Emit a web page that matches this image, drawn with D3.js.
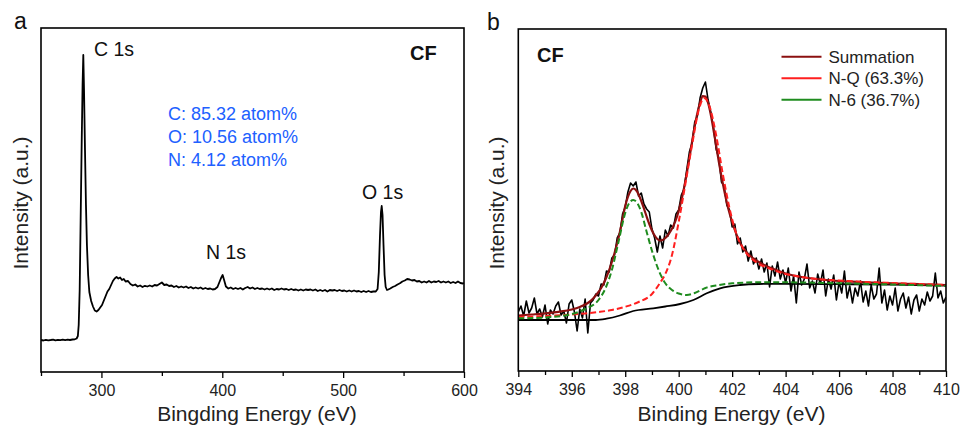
<!DOCTYPE html>
<html><head><meta charset="utf-8">
<script src="https://cdn.jsdelivr.net/npm/d3@7"></script>
<style>body{margin:0;background:#fff} text{font-family:"Liberation Sans",Arial,sans-serif}</style>
</head><body><svg id="c" width="960" height="425"></svg>
<script>
// ---------- Panel a: survey spectrum ----------
const surveyBE = [250,252,254,256,258,260,262,264,266,268,270,272,274,276,278,279.5,280.5,281.2,282,282.8,283.7,284.4,285,285.6,286.4,287.2,288,289,290,291.5,293,294.5,296,297.5,299,300.5,302,303.5,305,306.5,308,309.5,311,312.5,314,315.5,317,318.5,320,322,324,326,328,330,332,334,336,338,340,342,344,346,348,350,352,354,356,358,360,362,364,366,368,370,372,374,376,378,380,382,384,386,388,390,392,394,396,398,399,400.3,401.5,403,405,407,409,411,413,415,417,419,421,423,425,427,429,431,433,435,437,439,441,443,445,447,449,451,453,455,457,459,461,463,465,467,469,471,473,475,477,479,481,483,485,487,489,491,493,495,497,499,501,503,505,507,509,511,513,515,517,519,521,523,525,527,528.5,529.5,530.5,531.3,531.9,532.6,533.4,534.3,535.2,536.3,537.4,539,541,543,545,547,549,551,553,555,557,559,561,563,565,567,569,571,573,575,577,579,581,583,585,587,589,591,593,595,597,599,600];
const surveyI = [32,31.5,32.2,31.7,32,32.4,31.6,32.2,31.8,32.3,31.9,32.4,32,32.5,32.7,33.5,36,47,82,152,232,287,317,282,222,167,127,97,80,71,65.5,61.5,60.5,62,64.5,67,71.5,76,80.5,83,87,91,93.5,95,93.5,94.5,92,93,90.5,91,88,86.5,87.5,85.5,86.5,85,86.2,85.5,86.5,85.5,87,86.5,88,89.5,87,87.5,86,86.5,85,86,84.5,85.5,84.5,85.5,84,85,83.5,84.5,83.5,84.5,83,84,83,83.5,82.5,83,85,91,94,97,92,85.5,83.5,84.5,83,84,83,84,82.5,84,85,83.5,84.5,83,84,83,83.5,82.5,83.5,82.5,83.5,82,83,82.5,83.5,82.5,83,82,83,82,82.5,81.5,82.5,81.5,82.5,82,82.5,81.5,82.5,81,82,81,82,80.5,82,81.5,82,81,82,81,81.5,80.5,81.5,80.5,81.5,80.5,81,80,81,80,81,80,80.5,80.5,83,100,137,160,166,157,127,97,85,82,82.5,83.5,85,86,87.5,88.7,90.5,91.5,93,92.5,91.5,92,90.5,91,89.5,90.5,89.5,91,89.5,90.5,90,91,89.5,90.5,89.5,90.5,89,90,89,90.5,89,88.5,89];
const surveyTicks = [300,400,500,600];
const surveyMinor = [250,350,450,550];
const surveyPeaks = [["C 1s",285],["N 1s",400],["O 1s",532]];
const surveyComp = ["C: 85.32 atom%","O: 10.56 atom%","N: 4.12 atom%"];

// ---------- Panel b: N 1s high resolution ----------
const rawStart = 394, rawStep = 0.1;
const rawI = [59,65,55,70,58,63,73,57,62,54,66,47,61,57,65,69,56,60,48,67,71,59,40,62,53,72,38,68,71,77,75,87,86,100,99,113,116,133,138,157,164,179,188,185,189,175,178,167,162,159,142,133,119,135,123,141,135,146,143,157,161,176,182,201,219,228,249,255,273,283,289,271,259,244,222,213,189,185,166,161,144,147,127,133,119,125,110,120,107,113,102,112,99,108,84,105,95,109,92,101,88,103,80,95,68,99,86,92,107,83,90,78,97,87,101,75,92,82,96,71,89,78,100,73,85,68,83,75,90,69,80,65,86,72,77,103,68,81,61,75,66,83,60,72,78,63,74,57,71,76,60,72,66,79,70,75,98,73,80,68,74];
const sumBE = [394,394.5,395,395.5,396,396.3,396.6,396.8,397,397.1,397.2,397.3,397.4,397.5,397.6,397.7,397.8,397.9,398,398.1,398.2,398.3,398.4,398.5,398.6,398.7,398.8,398.9,399,399.1,399.2,399.3,399.4,399.5,399.6,399.7,399.8,399.9,400,400.1,400.2,400.3,400.4,400.5,400.6,400.7,400.8,400.9,401,401.1,401.2,401.3,401.4,401.5,401.6,401.7,401.8,401.9,402,402.1,402.2,402.3,402.4,402.5,402.6,402.7,402.8,402.9,403,403.2,403.4,403.6,403.8,404,404.5,405,405.5,406,406.5,407,407.5,408,408.5,409,409.5,410];
const sumI = [55.5,56.5,57.6,59.2,61.5,64,68,72.5,79,83,88,94,101,109,118,128,139,152,165,174,180,182.5,181,176.5,170,162.5,154.5,147,140.5,135.5,132,130.5,131,133,136,140,145,151.5,160,170.5,183,197.5,213,229,244.5,258,268.5,275,274.5,268,256.5,241.5,225.5,209.5,194.5,181,168.5,158,149,141,134,128,123.5,120,117,114.5,112.5,110.5,109,106,103.5,101.5,99.5,97.5,94.5,92.5,91,90,89.3,88.7,88.2,87.7,87.2,86.8,86.4,86];
const nqBE = [394,395,396,396.5,397,397.5,398,398.5,399,399.3,399.5,399.75,400,400.25,400.5,400.75,400.95,401.15,401.4,401.65,401.9,402.1,402.4,402.7,403,403.3,403.7,404,404.5,405,406,407,408,409,410];
const nqI = [54,55,56.5,57.5,59,61,64.3,69,77,88,97,116,149,187,226,261,273,265,236,197,163,142,123,113,107,103.5,99.5,97,94.5,92.5,90.5,89,88,87,86];
const n6BE = [394,395,396,396.5,397,397.25,397.5,397.75,398,398.15,398.3,398.45,398.6,398.8,399.05,399.3,399.5,399.75,400,400.3,400.6,400.8,401,401.5,402,403,404,406,408,410];
const n6I = [52.7,53.5,57,62,71,82,101,129.3,158,168,171,168,159,139.3,116,97.7,87.7,81,77.5,76,78,80.5,83,86,87.7,88.7,88.7,87.7,86.5,85];
const bgBE = [394,396.9,397.3,397.8,398.3,399.05,399.5,400.05,400.55,401.05,401.55,402.3,403,404,406,408,410];
const bgI = [51,51,52.3,55.5,60,62.7,64.5,67,71,77.7,82.7,86,87,87.2,86.8,86.3,85.5];
const n1sTicks = [394,396,398,400,402,404,406,408,410];
const n1sMinor = [395,397,399,401,403,405,407,409];
const legendItems = [["Summation","#8b1010"],["N-Q (63.3%)","#ff1f1f"],["N-6 (36.7%)","#1f8c1f"]];

const svg = d3.select("#c");

function frameAxes(g, x, y, ticks, minor) {
  const [x0,x1] = x.range(), [y1,y0] = y.range();
  g.append("g").attr("transform",`translate(0,${y1})`)
    .call(d3.axisBottom(x).tickValues(minor).tickSize(4).tickFormat(""))
    .call(s=>{s.select(".domain").remove(); s.selectAll("line").attr("stroke","#000").attr("stroke-width",1.3);});
  g.append("g").attr("transform",`translate(0,${y1})`)
    .call(d3.axisBottom(x).tickValues(ticks).tickSize(6).tickPadding(7).tickFormat(d3.format("d")))
    .call(s=>{s.select(".domain").remove(); s.selectAll("line").attr("stroke","#000").attr("stroke-width",1.3);
      s.selectAll("text").attr("font-size",16).attr("fill","#222").attr("font-family","Liberation Sans, Arial, sans-serif");});
  g.append("rect").attr("x",x0).attr("y",y0).attr("width",x1-x0).attr("height",y1-y0)
    .attr("fill","none").attr("stroke","#000").attr("stroke-width",1.6);
}

// ----- Panel a -----
const xa = d3.scaleLinear().domain([250,600]).range([41,464]);
const ya = d3.scaleLinear().domain([0,344]).range([372,28]);
const ga = svg.append("g");
ga.append("clipPath").attr("id","ca").append("rect").attr("x",41).attr("y",28).attr("width",423).attr("height",344);
ga.append("path").datum(surveyBE.map((b,i)=>[b,surveyI[i]]))
  .attr("clip-path","url(#ca)")
  .attr("d",d3.line().x(d=>xa(d[0])).y(d=>ya(d[1])))
  .attr("fill","none").attr("stroke","#000").attr("stroke-width",1.8).attr("stroke-linejoin","round");
frameAxes(ga, xa, ya, surveyTicks, surveyMinor);
ga.append("text").attr("x",14).attr("y",29).attr("font-size",23).attr("fill","#111").text("a");
ga.append("text").attr("x",257).attr("y",421).attr("text-anchor","middle").attr("font-size",21).attr("fill","#222").text("Bingding Energy (eV)");
ga.append("text").attr("transform","translate(28,203) rotate(-90)").attr("text-anchor","middle").attr("font-size",21).attr("fill","#222").text("Intensity (a.u.)");
ga.append("text").attr("x",410).attr("y",60).attr("font-size",20).attr("font-weight","bold").attr("fill","#111").text("CF");
const peakPos = [[94,56],[206,259],[362,199]];
surveyPeaks.forEach((p,i)=>{
  ga.append("text").attr("x",peakPos[i][0]).attr("y",peakPos[i][1]).attr("font-size",19.5).attr("fill","#111").text(p[0]);
});
surveyComp.forEach((t,i)=>{
  ga.append("text").attr("x",168).attr("y",119.5+i*23.3).attr("font-size",18).attr("fill","#2060ff").text(t);
});

// ----- Panel b -----
const xb = d3.scaleLinear().domain([394,410]).range([518.3,946]);
const yb = d3.scaleLinear().domain([0,342]).range([371,29]);
const gb = svg.append("g");
gb.append("clipPath").attr("id","cb").append("rect").attr("x",518.3).attr("y",29).attr("width",427.7).attr("height",342);
const lineB = d3.line().x(d=>xb(d[0])).y(d=>yb(d[1]));
const smooth = d3.line().x(d=>xb(d[0])).y(d=>yb(d[1])).curve(d3.curveMonotoneX);
const pl = gb.append("g").attr("clip-path","url(#cb)");
pl.append("path").datum(rawI.map((v,i)=>[rawStart+i*rawStep,v]))
  .attr("d",lineB).attr("fill","none").attr("stroke","#000").attr("stroke-width",1.6).attr("stroke-linejoin","round");
pl.append("path").datum(bgBE.map((b,i)=>[b,bgI[i]]))
  .attr("d",smooth).attr("fill","none").attr("stroke","#000").attr("stroke-width",1.8);
pl.append("path").datum(sumBE.map((b,i)=>[b,sumI[i]]))
  .attr("d",smooth).attr("fill","none").attr("stroke",legendItems[0][1]).attr("stroke-width",2.2);
pl.append("path").datum(nqBE.map((b,i)=>[b,nqI[i]]))
  .attr("d",smooth).attr("fill","none").attr("stroke",legendItems[1][1]).attr("stroke-width",2).attr("stroke-dasharray","6,3");
pl.append("path").datum(n6BE.map((b,i)=>[b,n6I[i]]))
  .attr("d",smooth).attr("fill","none").attr("stroke",legendItems[2][1]).attr("stroke-width",2).attr("stroke-dasharray","6,3");
frameAxes(gb, xb, yb, n1sTicks, n1sMinor);
gb.append("text").attr("x",487).attr("y",29.5).attr("font-size",23).attr("fill","#111").text("b");
gb.append("text").attr("x",731.5).attr("y",420.5).attr("text-anchor","middle").attr("font-size",21).attr("fill","#222").text("Binding Energy (eV)");
gb.append("text").attr("transform","translate(504,203) rotate(-90)").attr("text-anchor","middle").attr("font-size",21).attr("fill","#222").text("Intensity (a.u.)");
gb.append("text").attr("x",537).attr("y",62).attr("font-size",20).attr("font-weight","bold").attr("fill","#111").text("CF");
legendItems.forEach((it,i)=>{
  const yy = 56.7 + i*21.5;
  gb.append("line").attr("x1",781.5).attr("x2",821.5).attr("y1",yy).attr("y2",yy).attr("stroke",it[1]).attr("stroke-width",2);
  gb.append("text").attr("x",828.5).attr("y",yy+5.8).attr("font-size",17).attr("fill","#222").text(it[0]);
});
</script></body></html>
